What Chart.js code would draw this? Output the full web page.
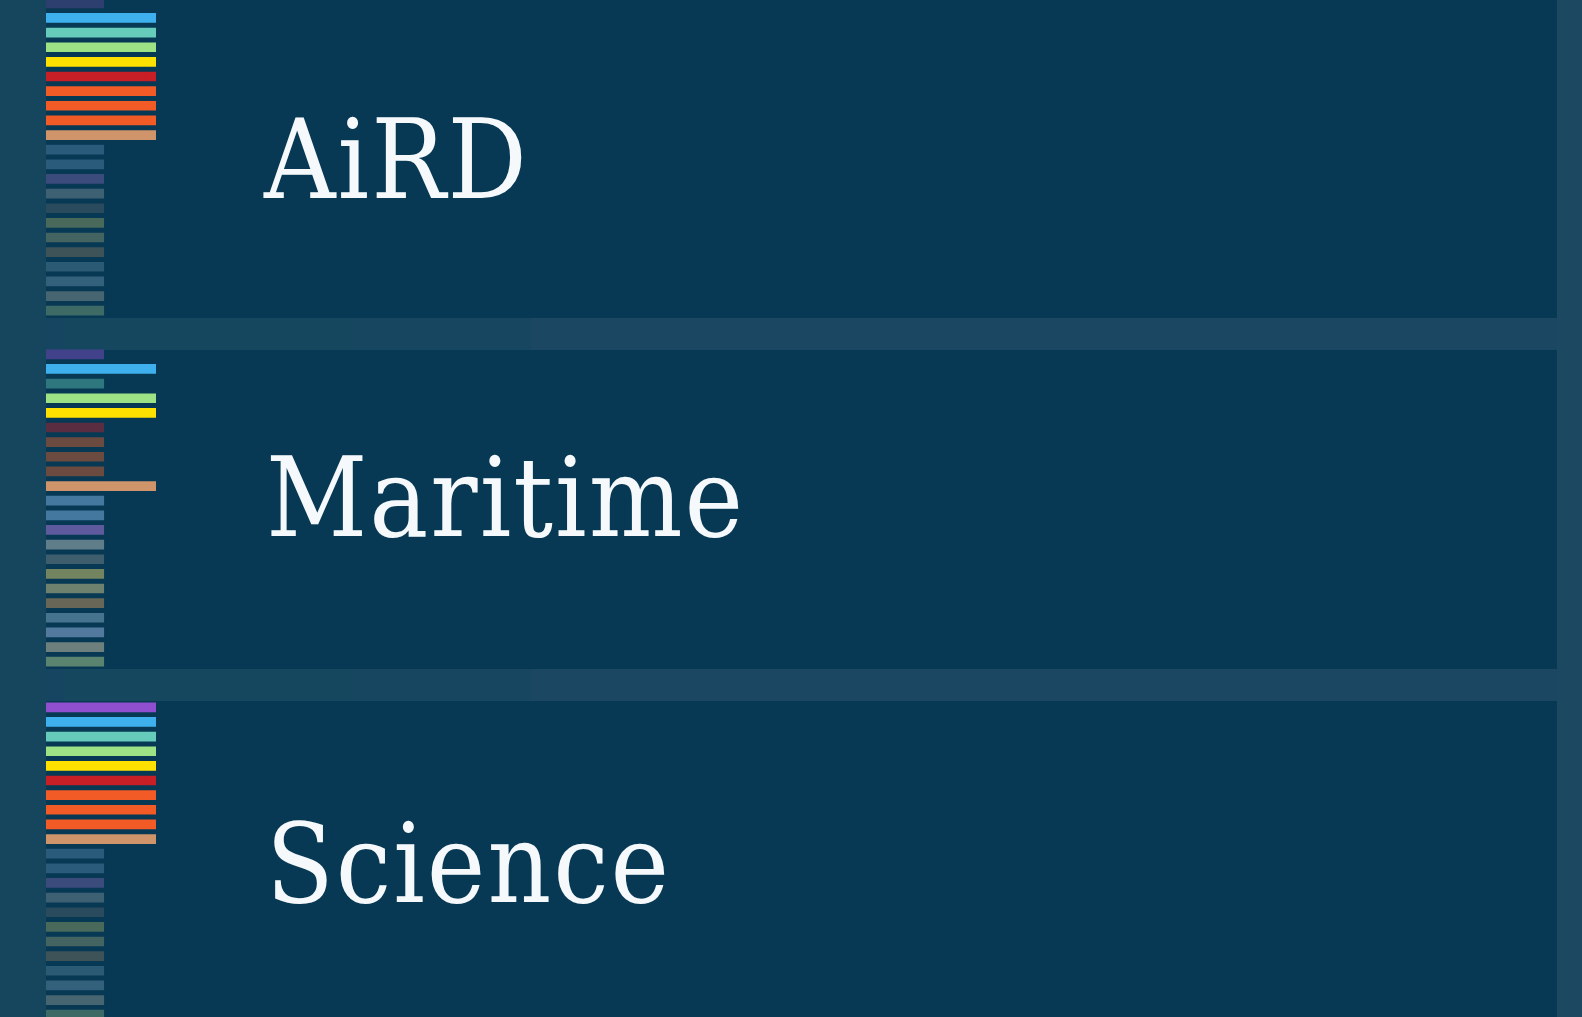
<!DOCTYPE html>
<html>
<head>
<meta charset="utf-8">
<script src="https://cdn.jsdelivr.net/npm/chart.js@4.4.1/dist/chart.umd.min.js"></script>
<style>
    html, body { margin: 0; padding: 0; }
    body {
        width: 1582px; height: 1017px; overflow: hidden; position: relative;
        background: #16465e;
    }
    .block { position: absolute; }
    .panel { position: absolute; left: 46px; width: 1511px; height: 319px; background: #073854; }
    .bars { position: absolute; left: 46px; width: 110px; height: 322px; }
    .label {
        position: absolute; color: #f5f9fb;
        font-family: "DejaVu Serif", serif; font-stretch: condensed;
        font-size: 110px; line-height: 1; white-space: nowrap; letter-spacing: 2px;
    }
</style>
</head>
<body>
    <!-- gutter shading between panels -->
    <div class="block" style="left:46px;top:318px;width:18px;height:32px;background:#164562"></div>
    <div class="block" style="left:64px;top:318px;width:286px;height:32px;background:#15475e"></div>
    <div class="block" style="left:350px;top:318px;width:181px;height:32px;background:#164660"></div>
    <div class="block" style="left:531px;top:318px;width:1051px;height:32px;background:#1c4762"></div>
    <div class="block" style="left:46px;top:669px;width:18px;height:32px;background:#164562"></div>
    <div class="block" style="left:64px;top:669px;width:286px;height:32px;background:#15475e"></div>
    <div class="block" style="left:350px;top:669px;width:181px;height:32px;background:#164660"></div>
    <div class="block" style="left:531px;top:669px;width:1051px;height:32px;background:#1c4762"></div>
    <div class="block" style="left:1557px;top:0;width:25px;height:1017px;background:#1c4862"></div>

    <div class="panel" style="top:-1px"></div>
    <div class="panel" style="top:350px"></div>
    <div class="panel" style="top:701px"></div>

    <div class="bars" style="top:-4px"><canvas id="chartAird"></canvas></div>
    <div class="bars" style="top:347px"><canvas id="chartMaritime"></canvas></div>
    <div class="bars" style="top:700px"><canvas id="chartScience"></canvas></div>

    <div class="label" id="labelAird" style="left:264px;top:105px"></div>
    <div class="label" id="labelMaritime" style="left:266px;top:443px"></div>
    <div class="label" id="labelScience" style="left:266px;top:809px"></div>

<script>
// one bar per category, long = highlighted
const categories = ["1", "2", "3", "4", "5", "6", "7", "8", "9", "10", "11",
    "12", "13", "14", "15", "16", "17", "18", "19", "20", "21", "22"]
const titles = ["AiRD", "Maritime", "Science"]

const airdValues = [1.05, 2, 2, 2, 2, 2, 2, 2, 2, 2, 1.05,
    1.05, 1.05, 1.05, 1.05, 1.05, 1.05, 1.05, 1.05, 1.05, 1.05, 1.05]
const maritimeValues = [1.05, 2, 1.05, 2, 2, 1.05, 1.05, 1.05, 1.05, 2, 1.05,
    1.05, 1.05, 1.05, 1.05, 1.05, 1.05, 1.05, 1.05, 1.05, 1.05, 1.05]
const scienceValues = [2, 2, 2, 2, 2, 2, 2, 2, 2, 2, 1.05,
    1.05, 1.05, 1.05, 1.05, 1.05, 1.05, 1.05, 1.05, 1.05, 1.05, 1.05]

const airdColors = ["#2d3f6e", "#3fb0ee", "#66cbbb", "#9de285", "#ffe100", "#c81f27",
    "#f25b25", "#f25b25", "#f25b25", "#d0946b", "#2b5b7b", "#2b5b7b", "#3b4b7b",
    "#3d6173", "#2a4b5e", "#496a5a", "#446462", "#3d5358", "#2b5b74", "#33607a",
    "#466571", "#3d6a64"]
const maritimeColors = ["#41428a", "#3fb0ee", "#2e777e", "#9de285", "#ffe100", "#5a2d40",
    "#6b4a40", "#6b4a40", "#6b4a40", "#d0946b", "#44789e", "#44789e", "#5e5a9e",
    "#607e8a", "#3e5e6e", "#738560", "#6e806e", "#686656", "#46748e", "#537a9e",
    "#6e807e", "#5a8470"]
const scienceColors = ["#8f4fcf", "#3fb0ee", "#66cbbb", "#9de285", "#ffe100", "#c81f27",
    "#f25b25", "#f25b25", "#f25b25", "#d0946b", "#2b5b7b", "#2b5b7b", "#3b4b7b",
    "#3d6173", "#2a4b5e", "#496a5a", "#446462", "#3d5358", "#2b5b74", "#33607a",
    "#466571", "#3d6a64"]

function drawBars(id, values, colors) {
    var ctx = document.getElementById(id).getContext('2d')
    new Chart(ctx, {
        type: 'bar',
        data: {
            labels: categories,
            datasets: [{
                data: values,
                backgroundColor: colors,
                borderWidth: 0,
                barThickness: 9
            }]
        },
        options: {
            indexAxis: 'y',
            responsive: true,
            maintainAspectRatio: false,
            animation: false,
            layout: { padding: 0 },
            plugins: { legend: { display: false }, tooltip: { enabled: false } },
            scales: {
                x: { display: false, min: 0, max: 2 },
                y: { display: false }
            }
        }
    })
}

drawBars('chartAird', airdValues, airdColors)
drawBars('chartMaritime', maritimeValues, maritimeColors)
drawBars('chartScience', scienceValues, scienceColors)

document.getElementById('labelAird').textContent = titles[0]
document.getElementById('labelMaritime').textContent = titles[1]
document.getElementById('labelScience').textContent = titles[2]
</script>
</body>
</html>
